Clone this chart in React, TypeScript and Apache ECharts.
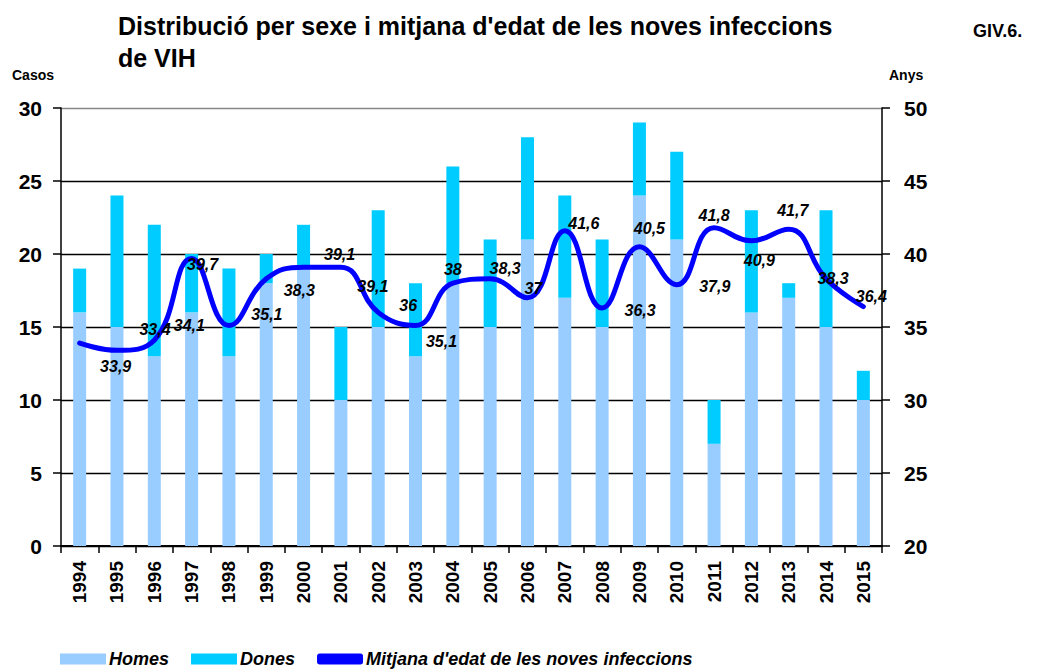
import React, { useEffect, useRef } from "react";
import * as echarts from "echarts";

const years = ["1994","1995","1996","1997","1998","1999","2000","2001","2002","2003","2004","2005","2006","2007","2008","2009","2010","2011","2012","2013","2014","2015"];
const homes = [16,15,13,16,13,18,19,10,15,13,18,15,21,17,15,24,21,7,16,17,15,10];
const dones = [3,9,9,4,6,2,3,5,8,5,8,6,7,7,6,5,6,3,7,1,8,2];
const mitjana = [33.9,33.4,34.1,39.7,35.1,38.3,39.1,39.1,36,35.1,38,38.3,37,41.6,36.3,40.5,37.9,41.8,40.9,41.7,38.3,36.4];
const labelOffsets = [[36,23],[38,-21],[35,-15],[11,6],[38,-11],[33,12],[36,-13],[32,19],[30,-7],[26,16],[0,-14],[15,-10],[6,-9],[19,-7],[38,2],[10,-18],[38,2],[0,-12],[8,20],[4,-19],[7,0],[8,-10]];
const leftTicks = { min: 0, max: 30, interval: 5 };
const rightTicks = { min: 20, max: 50, interval: 5 };

const FONT = "'Liberation Sans', Arial, sans-serif";
const LINE_NAME = "Mitjana d'edat de les noves infeccions";

export default function App() {
  const ref = useRef<HTMLDivElement>(null);
  useEffect(() => {
    const chart = echarts.init(ref.current!, null, { renderer: "svg" });
    chart.setOption({
      animation: false,
      textStyle: { fontFamily: FONT },
      title: {
        text: "Distribució per sexe i mitjana d'edat de les noves infeccions\nde VIH",
        left: 113,
        top: 5,
        textStyle: { fontFamily: FONT, fontSize: 25, fontWeight: "bold", color: "#000", lineHeight: 32 },
      },
      graphic: [
        { type: "text", left: 973, top: 22, style: { text: "GIV.6.", font: `bold 18px ${FONT}`, fill: "#000" } },
        { type: "text", left: 12, top: 68, style: { text: "Casos", font: `bold 14px ${FONT}`, fill: "#000" } },
        { type: "text", left: 889, top: 68, style: { text: "Anys", font: `bold 14px ${FONT}`, fill: "#000" } },
      ],
      legend: {
        left: 60,
        top: 650,
        padding: 0,
        itemWidth: 46,
        itemHeight: 11,
        itemGap: 22,
        textStyle: { fontFamily: FONT, fontSize: 18, lineHeight: 18, fontWeight: "bold", fontStyle: "italic", color: "#000", padding: [0, 0, 0, -2] },
        data: [
          { name: "Homes", icon: "rect" },
          { name: "Dones", icon: "rect" },
          { name: LINE_NAME, icon: "roundRect" },
        ],
      },
      grid: { left: 61, right: 158, top: 108, bottom: 124 },
      xAxis: {
        type: "category",
        data: years,
        axisLine: { lineStyle: { color: "#000", width: 2 } },
        axisTick: { show: true, length: 7, lineStyle: { color: "#000", width: 1.5 } },
        axisLabel: { rotate: 90, fontFamily: FONT, fontSize: 19, fontWeight: "bold", color: "#000", margin: 15 },
      },
      yAxis: [
        {
          type: "value",
          ...leftTicks,
          axisLine: { show: true, lineStyle: { color: "#000", width: 1.5 } },
          axisTick: { show: true, length: 8, lineStyle: { color: "#000", width: 1.5 } },
          axisLabel: { fontFamily: FONT, fontSize: 21, fontWeight: "bold", color: "#000", margin: 19 },
          splitLine: { show: true, lineStyle: { color: ["#000", "#000", "#000", "#000", "#000", "#000", "#888"], width: 1.3 } },
        },
        {
          type: "value",
          ...rightTicks,
          position: "right",
          axisLine: { show: true, lineStyle: { color: "#000", width: 1.5 } },
          axisTick: { show: true, length: 8, lineStyle: { color: "#000", width: 1.5 } },
          axisLabel: { fontFamily: FONT, fontSize: 21, fontWeight: "bold", color: "#000", margin: 22 },
          splitLine: { show: false },
        },
      ],
      series: [
        {
          name: "Homes",
          type: "bar",
          stack: "total",
          barWidth: 13,
          data: homes,
          itemStyle: { color: "#99CCFF" },
        },
        {
          name: "Dones",
          type: "bar",
          stack: "total",
          barWidth: 13,
          data: dones,
          itemStyle: { color: "#00CCFF" },
        },
        {
          name: LINE_NAME,
          type: "line",
          yAxisIndex: 1,
          smooth: 0.45,
          symbol: "circle",
          symbolSize: 2,
          z: 5,
          itemStyle: { color: "#0000FF" },
          lineStyle: { color: "#0000FF", width: 5, cap: "round", join: "round" },
          data: mitjana.map((v, i) => ({
            value: v,
            label: {
              show: true,
              position: "inside",
              offset: labelOffsets[i],
              formatter: () => String(v).replace(".", ","),
              fontFamily: FONT,
              fontSize: 16,
              fontWeight: "bold",
              fontStyle: "italic",
              color: "#000",
            },
          })),
        },
      ],
    });
    return () => chart.dispose();
  }, []);
  return <div ref={ref} style={{ position: "fixed", left: 0, top: 0, width: 1040, height: 670, background: "#fff" }} />;
}
